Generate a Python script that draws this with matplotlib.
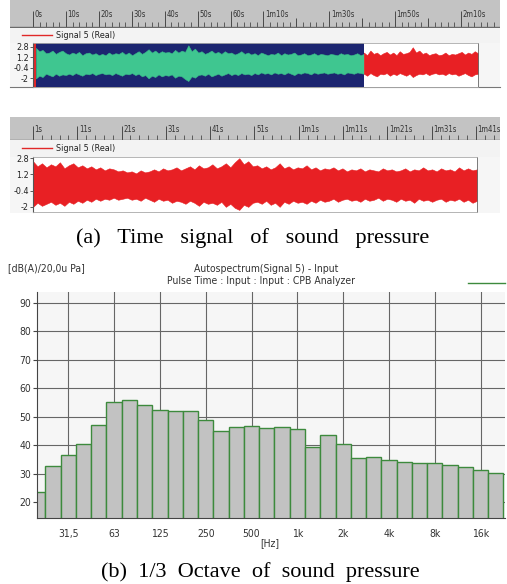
import numpy as np
import matplotlib.pyplot as plt

W, H = 507, 584
NARROW = dict(family='DejaVu Sans', fontstretch='condensed')
SERIF = ['Liberation Serif', 'DejaVu Serif']

# ---- time signal rulers ----
ruler1_major = [0, 10, 20, 30, 40, 50, 60, 70, 90, 110, 130]
ruler1_labels = ['0s', '10s', '20s', '30s', '40s', '50s', '60s',
                 '1m10s', '1m30s', '1m50s', '2m10s']
ruler1_mid = [80, 100, 120]
ruler2_major = [1, 11, 21, 31, 41, 51, 61, 71, 81, 91, 101]
ruler2_labels = ['1s', '11s', '21s', '31s', '41s', '51s', '1m1s',
                 '1m11s', '1m21s', '1m31s', '1m41s']

sig_ticks = [2.8, 1.2, -0.4, -2]
sig_ticklabels = ['2.8', '1.2', '-0.4', '-2']

# panel 1: selected (green) part and rest (red), envelope
sel_start, sel_end, rec_end = 0.9, 100.6, 135.3
green_up = [2.6, 2.1, 2.3, 1.8, 1.9, 2.2, 1.7, 2.0, 2.2, 1.8,
            1.6, 1.9, 1.7, 2.0, 1.5, 1.8, 1.9, 1.6, 1.8, 1.5,
            1.7, 1.5, 1.9, 1.6, 1.8, 1.7, 2.0, 1.6, 1.9, 1.5,
            1.8, 2.1, 1.7, 2.0, 2.4, 1.9, 2.2, 1.8, 2.1, 1.9,
            2.0, 1.8, 2.3, 1.9, 2.2, 2.0, 3.0, 2.1, 2.5, 1.9,
            2.1, 1.7, 1.9, 2.2, 1.8, 2.0, 1.7, 2.1, 1.8, 1.9,
            1.6, 1.8, 2.1, 1.7, 1.9, 1.6, 1.8, 1.5, 1.9, 1.7,
            1.5, 1.7, 1.6, 1.9, 1.5, 1.8, 1.6, 1.7, 1.9, 1.5,
            1.6, 1.8, 1.5, 1.6, 1.8, 1.5, 1.7, 1.6, 1.5, 1.7,
            1.6, 1.5, 1.8, 1.6, 1.7, 1.5, 1.6, 1.8, 1.5, 1.7]
green_lo = [-2.0, -1.6, -1.8, -1.3, -1.5, -1.7, -1.3, -1.6, -1.4, -1.5,
            -1.3, -1.5, -1.2, -1.4, -1.6, -1.3, -1.4, -1.2, -1.5, -1.3,
            -1.2, -1.4, -1.3, -1.5, -1.2, -1.4, -1.6, -1.3, -1.4, -1.2,
            -1.5, -1.3, -1.7, -1.5, -2.0, -1.6, -1.8, -1.4, -1.7, -1.5,
            -1.6, -1.4, -1.9, -1.6, -1.7, -2.1, -2.4, -1.7, -1.9, -1.5,
            -1.4, -1.6, -1.3, -1.7, -1.5, -1.3, -1.6, -1.4, -1.2, -1.5,
            -1.3, -1.5, -1.2, -1.4, -1.3, -1.5, -1.2, -1.4, -1.1, -1.3,
            -1.2, -1.4, -1.1, -1.3, -1.2, -1.4, -1.1, -1.3, -1.5, -1.2,
            -1.3, -1.1, -1.2, -1.4, -1.1, -1.3, -1.2, -1.1, -1.3, -1.2,
            -1.1, -1.3, -1.2, -1.4, -1.1, -1.2, -1.3, -1.1, -1.2, -1.3]
red1_up = [1.9, 1.5, 2.2, 1.7, 1.9, 1.5, 1.8, 2.0, 1.6, 1.9, 1.5, 2.1,
           1.7, 1.8, 2.0, 2.7, 1.9, 2.2, 1.7, 1.9, 1.5, 1.7, 1.8, 1.5,
           1.6, 1.9, 1.5, 1.7, 1.6, 1.8, 2.0, 1.6, 1.9, 1.7, 2.1, 1.8]
red1_lo = [-1.3, -1.6, -1.2, -1.5, -1.7, -1.3, -1.4, -1.2, -1.6, -1.3,
           -1.5, -1.2, -1.4, -1.6, -1.3, -1.8, -1.5, -1.3, -1.4, -1.2,
           -1.5, -1.3, -1.2, -1.4, -1.3, -1.5, -1.2, -1.4, -1.3, -1.6,
           -1.4, -1.2, -1.5, -1.7, -1.4, -1.3]

# panel 2: zoomed record
rec2_start, rec2_end = 1.0, 101.2
red2_up = [2.5, 2.0, 2.3, 1.9, 2.2, 2.0, 2.4, 1.8, 2.1, 2.3,
           1.9, 2.1, 1.8, 2.0, 1.7, 1.9, 1.6, 1.8, 1.7, 1.5,
           1.6, 1.4, 1.5, 1.3, 1.6, 1.4, 1.5, 1.7, 1.5, 1.8,
           1.6, 1.7, 1.9, 1.6, 1.8, 2.0, 1.7, 2.1, 1.8, 1.9,
           2.2, 1.8, 2.0, 2.3, 1.9, 2.4, 2.8, 2.2, 2.5, 2.0,
           2.1, 1.8, 2.0, 1.7, 1.9, 2.3, 1.8, 2.0, 1.7, 1.9,
           1.8, 2.1, 1.7, 1.9, 1.6, 1.8, 1.7, 1.9, 1.6, 1.8,
           1.5, 1.7, 1.6, 1.8, 1.5, 1.7, 1.6, 1.5, 1.8, 1.6,
           1.7, 1.5, 1.6, 1.8, 1.5, 1.7, 1.6, 1.9, 1.6, 1.7,
           1.5, 1.8, 1.6, 1.7, 1.5, 1.9, 1.6, 1.8, 1.6, 1.7]
red2_lo = [-2.0, -1.6, -1.9, -1.7, -1.5, -1.8, -1.6, -1.9, -1.5, -1.7,
           -1.4, -1.6, -1.3, -1.5, -1.2, -1.4, -1.2, -1.3, -1.1, -1.3,
           -1.2, -1.1, -1.3, -1.2, -1.4, -1.1, -1.3, -1.5, -1.2, -1.4,
           -1.3, -1.6, -1.4, -1.5, -1.7, -1.4, -1.6, -1.9, -1.5, -1.7,
           -1.6, -1.8, -1.5, -2.0, -1.7, -2.1, -2.3, -1.8, -2.0, -1.6,
           -1.5, -1.7, -1.4, -1.8, -1.6, -2.0, -1.5, -1.7, -1.4, -1.6,
           -1.5, -1.7, -1.4, -1.6, -1.3, -1.5, -1.4, -1.2, -1.5, -1.3,
           -1.2, -1.4, -1.3, -1.5, -1.2, -1.4, -1.3, -1.1, -1.4, -1.2,
           -1.3, -1.5, -1.2, -1.4, -1.3, -1.6, -1.2, -1.4, -1.3, -1.5,
           -1.3, -1.2, -1.5, -1.3, -1.4, -1.2, -1.5, -1.3, -1.6, -1.4]

# ---- 1/3 octave spectrum ----
bands = ['20', '25', '31,5', '40', '50', '63', '80', '100', '125', '160',
         '200', '250', '315', '400', '500', '630', '800', '1k', '1.25k',
         '1.6k', '2k', '2.5k', '3.15k', '4k', '5k', '6.3k', '8k', '10k',
         '12.5k', '16k', '20k']
levels = [23.4, 32.7, 36.5, 40.3, 47.2, 55.3, 55.9, 54.0, 52.3, 51.9,
          51.9, 48.9, 45.0, 46.3, 46.9, 46.0, 46.3, 45.7, 39.5, 43.5,
          40.3, 35.4, 35.7, 34.8, 34.1, 33.7, 33.7, 32.9, 32.3, 31.3, 30.1]
shown_bands = ['31,5', '63', '125', '250', '500', '1k', '2k', '4k', '8k', '16k']
db_ticks = [20, 30, 40, 50, 60, 70, 80, 90]


def box(x0, y0, x1, y1):
    # pixel box (top-left origin) -> figure fraction rect
    return [x0 / W, 1 - y1 / H, (x1 - x0) / W, (y1 - y0) / H]


def bare(ax, color):
    ax.set_facecolor(color)
    ax.set_xticks([])
    ax.set_yticks([])
    for s in ax.spines.values():
        s.set_visible(False)


def draw_ruler(ax, lo, hi, major, labels, mid):
    bare(ax, '#c3c3c3')
    ax.set_xlim(lo, hi)
    ax.set_ylim(0, 1)
    ax.vlines(major, 0, 0.6, color='#4a4a4a', lw=0.7)
    ax.vlines(mid, 0, 0.35, color='#4a4a4a', lw=0.7)
    minor = np.arange(major[0], hi, 2)
    ax.vlines(minor, 0, 0.2, color='#4a4a4a', lw=0.6)
    for m, lab in zip(major, labels):
        ax.text(m + (hi - lo) * 0.003, 0.47, lab, fontsize=5.5,
                color='#333333', ha='left', va='center', **NARROW)
    ax.axhline(0.02, color='#6a6a6a', lw=1)


def draw_legend_strip(ax):
    bare(ax, '#f3f3f3')
    ax.set_xlim(0, W)
    ax.set_ylim(0, 1)
    ax.plot([12, 43], [0.55, 0.55], color='#e02828', lw=1)
    ax.text(48, 0.5, 'Signal 5 (Real)', fontsize=6.5,
            color='#222222', va='center', **NARROW)


def style_signal(ax, lo, hi, ylim):
    ax.set_xlim(lo, hi)
    ax.set_ylim(*ylim)
    ax.set_xticks([])
    ax.set_yticks(sig_ticks)
    ax.set_yticklabels(sig_ticklabels, **NARROW)
    ax.tick_params(axis='y', labelsize=6.5, length=2, pad=1, width=0.6,
                   color='#444444', labelcolor='#222222')
    for k in ['top', 'right', 'bottom']:
        ax.spines[k].set_color('#aaaaaa')
        ax.spines[k].set_linewidth(0.6)
    ax.spines['left'].set_color('#555555')
    ax.spines['left'].set_linewidth(0.8)


fig = plt.figure(figsize=(W / 100, H / 100), dpi=100)

# ---------- panel 1 ----------
bg1 = fig.add_axes(box(10, 28, 500, 87))
bare(bg1, '#f6f6f6')
bg1.spines['bottom'].set_visible(True)
bg1.spines['bottom'].set_color('#777777')

r1 = fig.add_axes(box(10, 0, 500, 28))
px1 = (461 - 33) / 130.0
draw_ruler(r1, -23 / px1, 467 / px1, ruler1_major, ruler1_labels, ruler1_mid)

l1 = fig.add_axes(box(10, 28, 500, 43))
draw_legend_strip(l1)

s1 = fig.add_axes(box(33, 43.3, 478, 86.7))
s1.set_facecolor('white')
s1.axvspan(0, sel_start, color='#e02828', lw=0)
s1.axvspan(sel_start, sel_end, color='#1c2570', lw=0)
tg = np.linspace(sel_start, sel_end, len(green_up))
s1.fill_between(tg, green_lo, green_up, color='#3fc690', lw=0.4,
                edgecolor='#38b888')
tr = np.linspace(sel_end, rec_end, len(red1_up))
s1.fill_between(tr, red1_lo, red1_up, color='#e82024', lw=0.4,
                edgecolor='#e82024')
style_signal(s1, 0, rec_end, (-3.26, 3.3))
s1.spines['right'].set_color('#666666')

# ---------- panel 2 ----------
bg2 = fig.add_axes(box(10, 140, 500, 213))
bare(bg2, '#f6f6f6')

r2 = fig.add_axes(box(10, 116.7, 500, 140))
px2 = (476 - 33) / 100.0
draw_ruler(r2, 1 - 23 / px2, 1 + 467 / px2, ruler2_major, ruler2_labels, [])

l2 = fig.add_axes(box(10, 140, 500, 156.7))
draw_legend_strip(l2)

s2 = fig.add_axes(box(33, 156.7, 477, 211.7))
s2.set_facecolor('white')
t2 = np.linspace(rec2_start, rec2_end, len(red2_up))
s2.fill_between(t2, red2_lo, red2_up, color='#e82024', lw=0.4,
                edgecolor='#e82024')
style_signal(s2, rec2_start, rec2_end, (-2.48, 2.95))
s2.spines['right'].set_color('#666666')

fig.text(253 / W, 1 - 238 / H, '(a)   Time   signal   of   sound   pressure',
         family=SERIF, fontsize=16, ha='center', va='center')

# ---------- 1/3 octave spectrum ----------
ax = fig.add_axes(box(37, 292, 505, 518))
ax.set_facecolor('#f6f6f6')
idx = np.arange(len(bands))
ax.set_axisbelow(True)
ax.grid(True, color='#666666', lw=0.8)
ax.bar(idx, levels, width=1.0, color='#c2c2c2', edgecolor='#3d8a3d', lw=1.0)
ax.set_xlim(-0.05, 30.6)
ax.set_ylim(14.37, 93.87)
ax.set_xticks([bands.index(b) for b in shown_bands])
ax.set_xticklabels(shown_bands, **NARROW)
ax.set_yticks(db_ticks)
ax.set_yticklabels([str(v) for v in db_ticks], **NARROW)
ax.tick_params(axis='x', length=0, pad=8, labelsize=7.5, labelcolor='#333333')
ax.tick_params(axis='y', length=3, pad=1, width=0.8, labelsize=7.5,
               color='#444444', labelcolor='#333333')
for k in ['top', 'right']:
    ax.spines[k].set_visible(False)
for k in ['left', 'bottom']:
    ax.spines[k].set_color('#444444')

fig.text(8 / W, 1 - 268 / H, '[dB(A)/20,0u Pa]', fontsize=7.5,
         color='#333333', va='center', **NARROW)
fig.text(266 / W, 1 - 269 / H, 'Autospectrum(Signal 5) - Input',
         fontsize=7.5, color='#333333', ha='center', va='center', **NARROW)
fig.text(261 / W, 1 - 281 / H, 'Pulse Time : Input : Input : CPB Analyzer',
         fontsize=7.5, color='#333333', ha='center', va='center', **NARROW)
fig.add_artist(plt.Line2D([468 / W, 505 / W], [1 - 283 / H, 1 - 283 / H],
                          color='#3d8a3d', lw=1))
fig.text(270 / W, 1 - 543 / H, '[Hz]', fontsize=7.5,
         color='#333333', ha='center', va='center', **NARROW)

fig.text(260 / W, 1 - 572 / H, '(b)  1/3  Octave  of  sound  pressure',
         family=SERIF, fontsize=16, ha='center', va='center')

fig.savefig('out.png', dpi=100)
